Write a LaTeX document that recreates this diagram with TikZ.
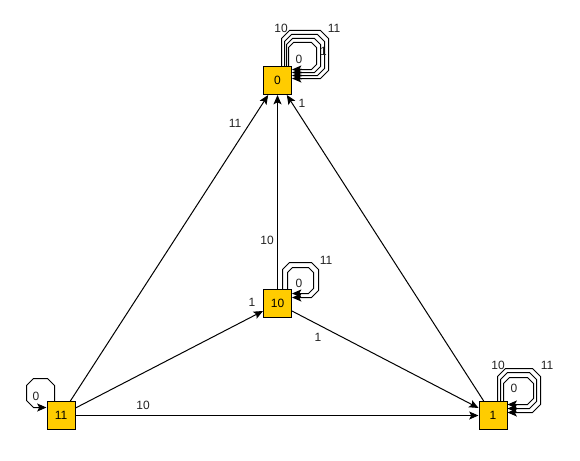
\documentclass[tikz,border=0pt]{standalone}
\usepackage{fontspec}
\setmainfont{Liberation Sans}
\usetikzlibrary{arrows.meta,calc}
\definecolor{boxfill}{HTML}{FFCC00}
\definecolor{lblcol}{HTML}{222222}
\tikzset{
  x=0.75pt,y=-0.75pt,
  state/.style={draw=black,line width=0.75pt,fill=boxfill,minimum size=21pt,inner sep=0pt,font=\fontsize{9}{11}\selectfont},
  edge/.style={draw=black,line width=0.75pt,-{Stealth[length=7pt,width=6pt,inset=1.5pt]}},
  lbl/.style={inner sep=0pt,text=lblcol,font=\fontsize{9}{11}\selectfont}
}
\newcommand\octloop[6]{%
  \draw[edge] (#1.north -| #2,0) -- (#2,{#3+#6}) -- ({#2+#6},#3) -- ({#4-#6},#3)
    -- (#4,{#3+#6}) -- (#4,{#5-#6}) -- ({#4-#6},#5) -- (#1.east |- 0,#5);}
\begin{document}
\begin{tikzpicture}
\useasboundingbox (0,0) rectangle (580,460);
\node[state] (n0) at (277.5,80.5) {0};
\node[state] (n10) at (277.5,303.5) {10};
\node[state] (n11) at (61,415.5) {11};
\node[state] (n1) at (493,415.5) {1};
% edges
\draw[edge] (n11) -- (n0);
\draw[edge] (n10) -- (n0);
\draw[edge] (n1) -- (n0);
\draw[edge] (n11) -- (n10);
\draw[edge] (n10) -- (n1);
\draw[edge] (n11) -- (n1);
% loops on 0
\octloop{n0}{281.5}{30.5}{328.5}{78.5}{8}
\octloop{n0}{284.5}{34.5}{324.5}{75.5}{7}
\octloop{n0}{286.5}{38.5}{320.5}{72.5}{6}
\octloop{n0}{288.5}{42.5}{316.5}{69.5}{5}
% loops on 10
\octloop{n10}{282.5}{262.5}{318.5}{297.5}{7}
\octloop{n10}{287.5}{267.5}{313.5}{293.5}{5}
% loops on 1
\octloop{n1}{497.5}{368.5}{540.5}{412.5}{8}
\octloop{n1}{500.5}{372.5}{536.5}{408.5}{7}
\octloop{n1}{503.5}{377.5}{533.5}{404.5}{6}
% loop on 11
\draw[edge] (n11.north -| 54.5,0) -- (54.5,385.5) -- (47.5,378.5) -- (33.5,378.5) -- (26.5,385.5) -- (26.5,400.5) -- (33.5,407.5) -- (n11.west |- 0,407.5);
% edge labels
\node[lbl] (e1) at (235,123) {11};
\node[lbl] (e2) at (267,240) {10};
\node[lbl] (e3) at (302,103) {1};
\node[lbl] (e4) at (252,302) {1};
\node[lbl] (e5) at (318,337) {1};
\node[lbl] (e6) at (143,405) {10};
% loop labels
\node[lbl] (t1) at (281,28.5) {10};
\node[lbl] (t2) at (334,28.5) {11};
\node[lbl] (t3) at (323.5,51) {1};
\node[lbl] (t4) at (299,59) {0};
\node[lbl] (m1) at (326,260) {11};
\node[lbl] (m2) at (299,283) {0};
\node[lbl] (r1) at (498,365) {10};
\node[lbl] (r2) at (547,365) {11};
\node[lbl] (r3) at (514,388) {0};
\node[lbl] (b1) at (36,396) {0};
\end{tikzpicture}
\end{document}
